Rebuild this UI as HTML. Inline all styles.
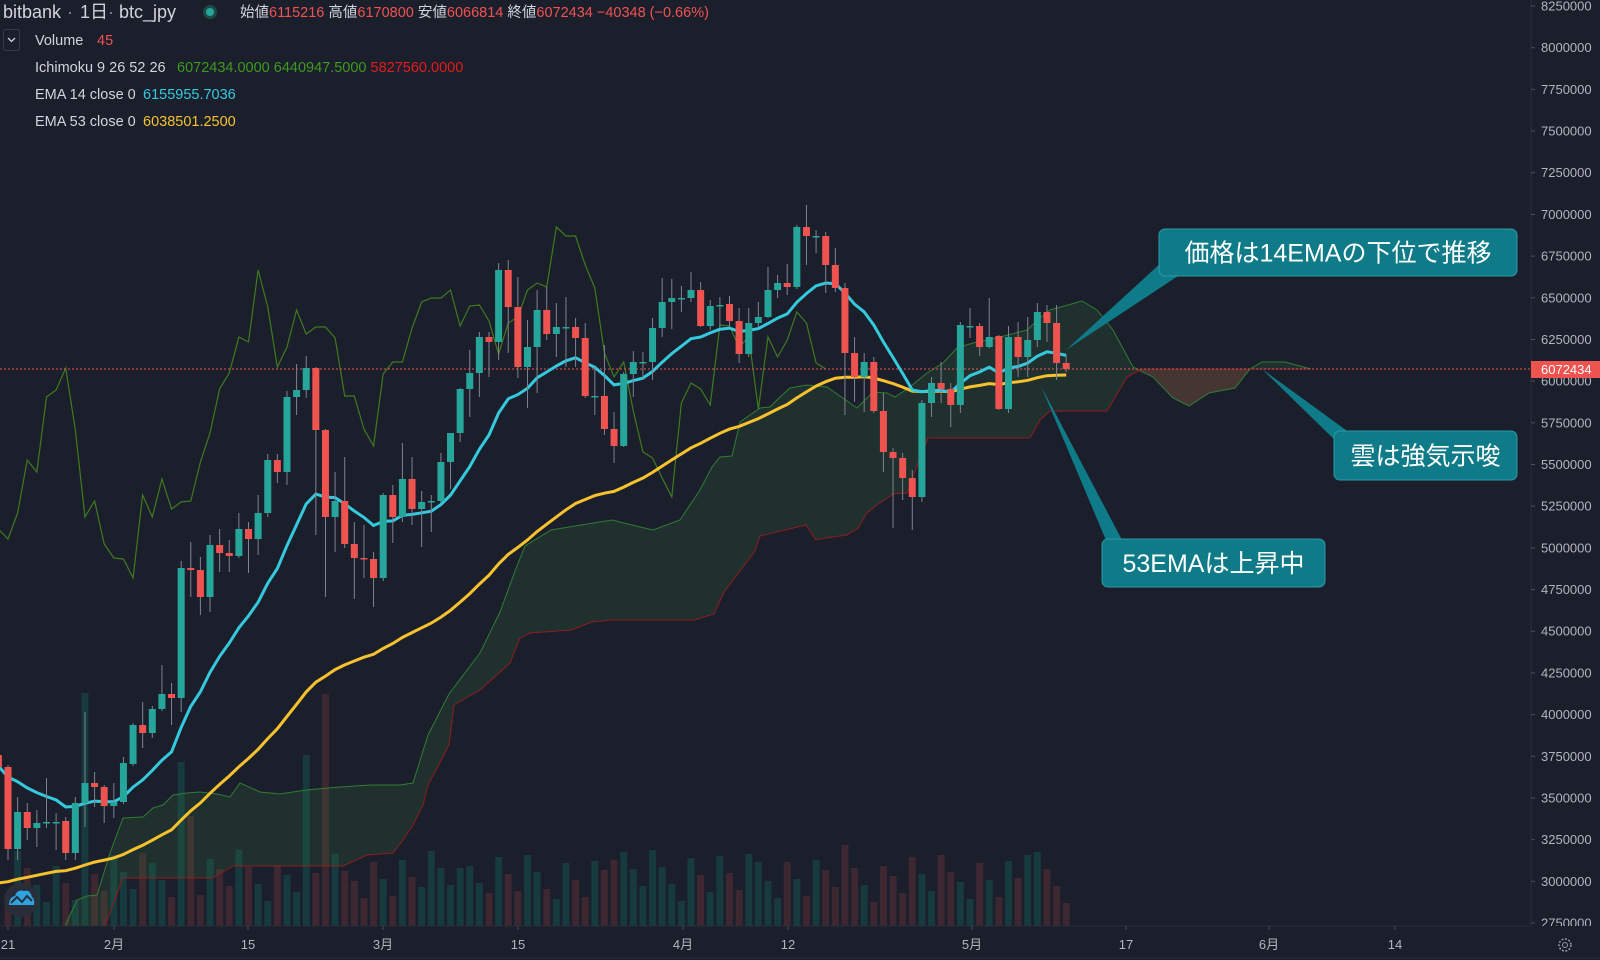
<!DOCTYPE html>
<html><head><meta charset="utf-8">
<style>
html,body{margin:0;padding:0;background:#1b1f2c;}
body{width:1600px;height:960px;overflow:hidden;position:relative;font-family:"Liberation Sans","Noto Sans CJK JP",sans-serif;}
svg{position:absolute;left:0;top:0;}
.t{font-family:"Liberation Sans","Noto Sans CJK JP",sans-serif;}
</style></head>
<body>
<svg id="c" width="1600" height="960" xmlns="http://www.w3.org/2000/svg"></svg>
<script>
const D=[[755,767,750,770],[767,849,765,860],[849,812,797,860],[812,828,803,840],[828,823,810,847],[822,822,778,828],[822,822,813,850],[821,853,817,860],[853,803,797,860],[803,783,712,827],[783,787,772,807],[787,806,785,823],[806,802,783,818],[802,763,757,804],[764,725,723,766],[725,733,702,748],[733,709,706,738],[709,694,665,711],[694,698,683,725],[698,568,561,712],[568,570,542,597],[570,597,557,615],[597,545,535,612],[545,553,529,572],[553,556,540,572],[556,529,513,558],[529,539,522,573],[539,513,495,555],[513,460,454,517],[460,472,454,483],[472,397,391,485],[397,390,364,415],[390,368,356,398],[368,430,367,535],[430,517,429,597],[517,501,472,552],[501,544,457,548],[544,558,522,599],[558,559,525,578],[559,578,552,607],[578,495,493,581],[495,517,485,543],[517,479,443,522],[479,509,457,525],[509,502,491,547],[502,501,495,532],[501,462,453,503],[462,433,433,489],[433,389,388,442],[389,373,350,417],[373,337,332,397],[337,342,332,377],[342,270,263,360],[270,307,260,353],[307,367,277,378],[367,347,320,408],[347,310,290,393],[310,334,287,340],[334,327,303,357],[327,327,297,367],[327,338,318,367],[338,396,323,398],[396,396,367,415],[396,429,345,435],[429,446,412,463],[446,374,372,447],[374,362,351,397],[362,362,352,380],[362,328,318,380],[328,302,278,337],[302,298,279,329],[298,298,286,312],[298,290,272,302],[290,326,282,327],[326,306,300,330],[305,305,297,327],[304,321,296,327],[321,354,308,363],[354,323,308,357],[323,317,302,327],[317,290,267,318],[290,283,275,298],[283,287,264,295],[287,227,225,289],[227,236,205,265],[236,236,230,253],[236,265,232,293],[265,288,248,292],[288,353,283,415],[353,377,337,402],[377,362,353,412],[362,411,357,413],[411,452,393,472],[452,458,448,528],[458,478,453,500],[478,497,470,530],[497,403,400,502],[403,383,377,417],[383,389,362,403],[389,405,383,427],[405,325,322,413],[326,326,308,338],[326,347,323,356],[347,337,298,348],[336,409,335,410],[409,337,326,413],[337,357,322,377],[357,340,317,377],[340,312,303,347],[312,323,305,342],[323,363,305,380],[363,369,356,372]];
const X=i=>8+i*9.62;
const G='#26a69a',R='#ef5350';
let s='';
const P=p=>6+(8250000-p)*1.6673e-4;
const A=[[65,926],[77,900],[87,896],[97,895],[110,853],[123,818],[143,817],[153,808],[163,805],[173,795],[187,793],[200,792],[217,794],[230,797],[240,783],[260,792],[280,794],[306,790],[340,787],[370,785],[400,785],[413,783],[428,735],[449,694],[480,653],[500,612],[515,571],[525,546],[551,530],[581,525],[612,520],[632,525],[653,530],[680,520],[700,490],[712,467],[720,457],[732,456],[740,422],[760,408],[770,407],[780,397],[790,388],[807,385],[827,387],[857,408],[873,392],[887,393],[895,397],[910,387],[927,373],[943,363],[957,348],[973,343],[987,340],[1000,337],[1027,330],[1040,318],[1050,310],[1068,305],[1082,301],[1097,310],[1113,330],[1133,367],[1153,377],[1173,398],[1189,406],[1209,393],[1235,388],[1250,369],[1262,362],[1285,362],[1311,369]];
const B=[[65,926],[105,926],[123,878],[213,878],[233,866],[343,866],[367,855],[393,853],[403,840],[413,825],[423,805],[428,785],[449,745],[454,705],[480,690],[510,663],[520,638],[530,633],[571,630],[592,622],[612,620],[694,620],[714,614],[724,592],[740,571],[755,551],[760,536],[785,530],[806,525],[816,540],[826,538],[847,535],[858,528],[867,513],[877,505],[893,494],[907,493],[920,458],[928,438],[1030,438],[1040,420],[1050,411],[1107,411],[1127,377],[1142,369],[1250,369],[1311,369]];
const pts=a=>a.map(p=>p[0]+','+p[1]).join(' ');
for(let i=-1;i<D.length-1;i++){const d=D[i+1];let top=905-((i*37+11)%53)-((i*13)%7);
 const ov={8:693,18:762,19:816,31:755,33:694,87:845,106:855,63:860,62:870,47:868,78:862};
 if(ov[i])top=ov[i];
 const red=d[1]>d[0];
 s+=`<rect x="${X(i)-3.5}" y="${top}" width="7" height="${926-top}" fill="${red?'#3d2731':'#163a3e'}"/>`;}
s+=`<polygon points="${pts(A)} ${pts(B.slice().reverse())}" fill="rgba(67,160,71,0.13)"/>`;
s+=`<polygon points="1133,369 1250,369 1235,388 1209,393 1189,406 1173,398 1153,377" fill="rgba(239,83,80,0.18)"/>`;
s+=`<polyline points="${pts(A)}" fill="none" stroke="#2f7d32" stroke-width="1"/>`;
s+=`<polyline points="${pts(B)}" fill="none" stroke="#8e1c1c" stroke-width="1"/>`;
let ch=[];for(let i=-1;i<=85;i++){ch.push([X(i),D[i+1+25][1]]);}
s+=`<polyline points="${pts(ch)}" fill="none" stroke="#3f7a1f" stroke-width="1.2"/>`;
s+=`<line x1="0" y1="369" x2="1531" y2="369" stroke="#ef5350" stroke-width="1" stroke-dasharray="2,2"/>`;
function ema(n,seed){let e=seed,out=[];const k=2/(n+1);for(let i=0;i<D.length;i++){if(i>0)e=D[i][1]*k+e*(1-k);out.push([X(i-1),e.toFixed(1)]);}return out;}
s+=`<polyline points="${pts(ema(53,883))}" fill="none" stroke="#f7c22e" stroke-width="3"/>`;
s+=`<polyline points="${pts(ema(14,766))}" fill="none" stroke="#35c9de" stroke-width="3"/>`;
for(let i=-1;i<D.length-1;i++){const [o,c,h,l]=D[i+1];const red=c>o;const x=X(i);
 s+=`<line x1="${x}" y1="${h}" x2="${x}" y2="${l}" stroke="#80838e" stroke-width="1"/>`;
 const t=Math.min(o,c),b=Math.max(o,c);s+=`<rect x="${x-3.5}" y="${t}" width="7" height="${Math.max(b-t,1.5)}" fill="${red?R:G}"/>`;}
function box(x,y,w,h,txt,tip,b1,b2){
 s+=`<polygon points="${b1[0]},${b1[1]} ${b2[0]},${b2[1]} ${tip[0]},${tip[1]}" fill="#0f7b88"/>`;
 s+=`<rect x="${x}" y="${y}" width="${w}" height="${h}" rx="6" fill="#0f7b88" stroke="#2a9aa6" stroke-width="1"/>`;
 s+=`<text x="${x+w/2}" y="${y+h/2+9}" text-anchor="middle" font-size="25" fill="#fff" class="t">${txt}</text>`;}
box(1159,229,358,47,'価格は14EMAの下位で推移',[1066,350],[1162,262],[1178,276]);
box(1334,431,183,49,'雲は強気示唆',[1262,369],[1340,445],[1350,433]);
box(1102,539,223,48,'53EMAは上昇中',[1041,386],[1108,545],[1122,540]);
s+=`<rect x="1531" y="0" width="69" height="960" fill="#1b1f2c"/><line x1="1531" y1="0" x2="1531" y2="926" stroke="#2a2e39"/>`;
for(let p=8250000;p>=2750000;p-=250000){const y=P(p);s+=`<line x1="1531" y1="${y}" x2="1535" y2="${y}" stroke="#4a4e59"/><text x="1541" y="${y+4.5}" font-size="13" fill="#b2b5be" class="t">${p}</text>`;}
s+=`<rect x="1531" y="361" width="69" height="17" fill="#ef5350"/><text x="1541" y="374" font-size="13" fill="#fff" class="t">6072434</text>`;
s+=`<rect x="0" y="926" width="1600" height="34" fill="#1b1f2c"/><line x1="0" y1="926" x2="1531" y2="926" stroke="#2a2e39"/><line x1="0" y1="958" x2="1600" y2="958" stroke="#2a2e39"/>`;
[['21',8],['2月',114],['15',248],['3月',383],['15',518],['4月',683],['12',788],['5月',972],['17',1126],['6月',1269],['14',1395]].forEach(([t,x])=>{s+=`<line x1="${x}" y1="926" x2="${x}" y2="930" stroke="#4a4e59"/><text x="${x}" y="949" text-anchor="middle" font-size="13" fill="#b2b5be" class="t">${t}</text>`;});
s+=`<circle cx="1565" cy="945" r="6" fill="none" stroke="#9598a1" stroke-width="1.5" stroke-dasharray="2,1.5"/><circle cx="1565" cy="945" r="2.5" fill="none" stroke="#9598a1"/>`;
s+=`<circle cx="21" cy="900" r="17" fill="#2a2e39"/><path d="M9 905 Q9 897 15 896 Q17 889 24 891 Q30 889 32 897 Q35 899 34 905 Z" fill="#2ea3e0"/><polyline points="11,903 17,897 22,902 27,896 32,901" fill="none" stroke="#2a2e39" stroke-width="2"/>`;
// header
s+=`<text x="3" y="18" font-size="18" fill="#d1d4dc" class="t">bitbank</text><text x="67" y="18" font-size="18" fill="#8a8d96" class="t">·</text><text x="80" y="18" font-size="18" fill="#d1d4dc" class="t">1日</text><text x="108" y="18" font-size="18" fill="#8a8d96" class="t">·</text><text x="119" y="18" font-size="18" fill="#d1d4dc" class="t">btc_jpy</text>`;
s+=`<circle cx="210" cy="12" r="7" fill="#1e4a46"/><circle cx="210" cy="12" r="4" fill="#26a69a"/>`;
s+=`<text x="240" y="17" font-size="14.5" fill="#d1d4dc" class="t">始値<tspan fill="#ef5350">6115216</tspan>  高値<tspan fill="#ef5350">6170800</tspan>  安値<tspan fill="#ef5350">6066814</tspan>  終値<tspan fill="#ef5350">6072434  −40348 (−0.66%)</tspan></text>`;
s+=`<rect x="3.5" y="29.5" width="16" height="21" rx="2" fill="none" stroke="#363a45"/><polyline points="8,38 11.5,41.5 15,38" fill="none" stroke="#d1d4dc" stroke-width="1.3"/>`;
s+=`<text x="35" y="45" font-size="14.5" fill="#d1d4dc" class="t">Volume</text><text x="97" y="45" font-size="14.5" fill="#ef5350" class="t">45</text>`;
s+=`<text x="35" y="72" font-size="14.5" fill="#d1d4dc" class="t">Ichimoku 9 26 52 26</text><text x="177" y="72" font-size="14.5" fill="#3d9a1e" class="t">6072434.0000 6440947.5000 <tspan fill="#e31b1b">5827560.0000</tspan></text>`;
s+=`<text x="35" y="99" font-size="14.5" fill="#d1d4dc" class="t">EMA 14 close 0</text><text x="143" y="99" font-size="14.5" fill="#35c9de" class="t">6155955.7036</text>`;
s+=`<text x="35" y="126" font-size="14.5" fill="#d1d4dc" class="t">EMA 53 close 0</text><text x="143" y="126" font-size="14.5" fill="#f7c22e" class="t">6038501.2500</text>`;
document.getElementById('c').innerHTML=s;
</script>
</body></html>
